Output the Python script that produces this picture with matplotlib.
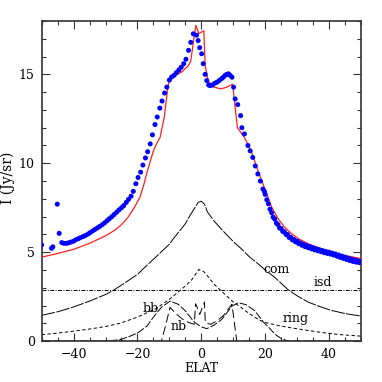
"""Zodiacal light profile vs ecliptic latitude: data, total model and components."""

import matplotlib

matplotlib.use("Agg")
import matplotlib.pyplot as plt  # noqa: E402
from matplotlib.ticker import MultipleLocator  # noqa: E402

plt.rcParams["font.family"] = ["DejaVu Serif"]

# observed profile (blue dots)
obs_elat = [-50, -46.9, -46.5, -45.1, -44.5,
            -43.7, -43, -42.2, -41.5, -40.8, -40, -39.3, -38.5, -37.8, -37, -36.3,
            -35.5, -34.8, -34, -33.3, -32.5, -31.8, -31, -30.3, -29.5, -28.8, -28,
            -27.3, -26.5, -25.8, -25, -24.3, -23.5, -22.8, -22, -21.3, -20.5, -19.8,
            -19, -18.3, -17.5, -16.8, -16, -15.3, -14.5, -13.8, -13, -12.3, -11.5,
            -10.8, -10, -9.3, -8.5, -7.8, -7, -6.3, -5.5, -4.8, -4, -3.3, -2.5,
            -1.5, -1, -0.5, 0.1, 0.6, 1.2, 1.7, 2.3, 2.8, 3.5, 4.2, 4.9, 5.6, 6.3,
            6.9, 7.5, 8.0, 8.5, 9.0, 9.6, 10.1, 10.6, 11.4, 12.3, 12.7, 13.5, 14.6,
            15.3, 16.1, 16.9, 17.7, 18.5, 19.3, 19.8,
            20, 20.5, 21, 21.5, 22, 22.5, 23, 23.5, 24, 24.5, 25, 25.5, 26, 26.5,
            27, 27.5, 28, 28.5, 29, 29.5, 30, 30.5, 31, 31.5, 32, 32.5, 33, 33.5,
            34, 34.5, 35, 35.5, 36, 36.5, 37, 37.5, 38, 38.5, 39, 39.5, 40, 40.5,
            41, 41.5, 42, 42.5, 43, 43.5, 44, 44.5, 45, 45.5, 46, 46.5, 47, 47.5,
            48, 48.5, 49, 49.5, 50]
obs_I = [5.41, 5.22, 5.3, 7.7, 6.06,
         5.54, 5.5, 5.5, 5.53, 5.57, 5.62, 5.7, 5.76, 5.82, 5.88, 5.94,
         6.02, 6.1, 6.2, 6.28, 6.37, 6.45, 6.55, 6.65, 6.77, 6.88, 7.0,
         7.12, 7.25, 7.38, 7.5, 7.62, 7.8, 7.97, 8.15, 8.42, 8.85, 9.2,
         9.5, 9.9, 10.3, 10.65, 11.09, 11.6, 12.18, 12.6, 13.1, 13.5, 13.95,
         14.28, 14.68, 14.85, 14.95, 15.1, 15.25, 15.4, 15.6, 15.85, 16.35, 16.8, 17.28,
         17.2, 16.9, 16.5, 16.16, 15.6, 15.0, 14.65, 14.4, 14.37, 14.4, 14.5, 14.56, 14.65, 14.75,
         14.84, 14.95, 15.0, 15.03, 14.95, 14.84, 14.28, 13.62, 13.3, 12.68, 12.0, 11.65, 11.0,
         10.7, 10.33, 9.85, 9.4, 9.0, 8.55, 8.4,
         8.25, 7.95, 7.72, 7.42, 7.22, 6.97, 6.87, 6.64, 6.55, 6.36, 6.33, 6.17, 6.15, 6.0,
         6.0, 5.83, 5.84, 5.69, 5.72, 5.58, 5.62, 5.48, 5.52, 5.39, 5.44, 5.31, 5.37, 5.25,
         5.31, 5.19, 5.25, 5.13, 5.19, 5.08, 5.14, 5.03, 5.09, 4.97, 5.04, 4.93, 5.0, 4.89,
         4.95, 4.84, 4.9, 4.77, 4.84, 4.71, 4.78, 4.65, 4.72, 4.59, 4.66, 4.53, 4.61, 4.48,
         4.56, 4.44, 4.52, 4.41, 4.48]

# total model (red line)
model_elat = [-50, -45, -40, -35, -30, -27, -25, -23, -21, -19.2, -18, -17, -16, -15,
              -14, -12.9, -11.6, -10.4, -9.8, -8, -6, -4, -3.3, -2.5, -1.7, -0.8, 0.8,
              1.2, 2.2, 3.8, 6, 8, 9.8, 11.3, 13.5, 15.6, 17.7, 20.3, 22, 24, 26,
              28.2, 30.5, 33.4, 38.6, 43.8, 50]
model_I = [4.72, 4.93, 5.16, 5.5, 5.92, 6.25, 6.55, 6.95, 7.5, 8.1, 8.8, 9.5, 10.1, 10.7,
           11.1, 11.46, 12.6, 14.4, 14.7, 14.95, 15.15, 15.5, 15.75, 16.8, 17.76, 17.3, 17.45,
           15.5, 14.6, 14.3, 14.18, 14.28, 14.45, 12.0, 11.45, 10.7, 9.6, 8.36, 7.55, 6.9, 6.42,
           6.05, 5.75, 5.48, 5.1, 4.86, 4.64]

# model components
com_elat = [-50, -45, -40, -35, -30, -27.5, -25, -20, -17, -15, -10, -8.7, -5, -3.5,
            -2, -1, 0, 1, 1.9, 4, 7.1, 10, 12.5, 15, 17.7, 20, 22.9, 25, 27.1, 30,
            33.4, 37, 40.7, 45, 50]
com_I = [1.45, 1.65, 1.92, 2.25, 2.62, 2.86, 3.15, 3.75, 4.27, 4.6, 5.45, 5.77, 6.6, 7.08,
         7.5, 7.8, 7.87, 7.7, 7.27, 6.75, 6.14, 5.6, 5.2, 4.75, 4.36, 4.0, 3.6, 3.25, 2.9, 2.55,
         2.2, 1.95, 1.73, 1.55, 1.41]

isd_elat = [-50, 50]
isd_I = [2.88, 2.88]

ring_elat = [-50, -45, -40, -35, -30, -25.5, -20, -14, -10, -7, -5, -3, -0.8, 0.8, 2,
             4, 7, 10, 12.4, 15, 18, 20, 24, 28, 33.4, 38, 43.8, 50]
ring_I = [0.36, 0.45, 0.56, 0.68, 0.82, 1.0, 1.35, 1.85, 2.35, 2.8, 3.1, 3.45, 4.03, 3.9, 3.65,
          3.2, 2.7, 2.2, 1.9, 1.55, 1.2, 1.05, 0.88, 0.75, 0.6, 0.48, 0.36, 0.28]

bb_elat = [-50, -32, -28, -25, -22, -20, -17, -15, -12.5, -9.8, -7.2, -5, -2.9, -1.9,
           0, 1.7, 4, 6.4, 9.6, 11.6, 14, 16.8, 19.3, 21.5, 23.1, 25, 27.3, 50]
bb_I = [0, 0, 0.03, 0.1, 0.3, 0.45, 0.85, 1.35, 1.9, 2.25, 2.07, 1.7, 1.22, 1.03,
        0.8, 0.7, 0.9, 1.22, 1.97, 2.16, 2.05, 1.7, 1.1, 0.7, 0.38, 0.15, 0, 0]

nb_elat = [-50, -12.5, -11, -9.8, -8, -6, -4, -2.2, -1.8, -1.4, -0.5, 1.0, 1.2, 1.6, 3,
           5, 7, 9.6, 11.1, 50]
nb_I = [0, 0, 1.0, 1.9, 1.55, 1.25, 1.05, 0.95, 2.1, 1.95, 1.5, 2.2, 1.2, 1.0, 0.95,
        1.15, 1.45, 2.07, 0, 0]

comp_labels = ["com", "isd", "ring", "bb", "nb"]
label_elat = [23.5, 38.0, 29.5, -15.7, -7.0]
label_I = [4.05, 3.27, 1.3, 1.83, 0.82]


fig = plt.figure(figsize=(3.82, 3.82), dpi=100)
ax = fig.add_axes([0.109, 0.107, 0.836, 0.838])

lw = 0.7
ax.plot(com_elat, com_I, color="k", lw=lw, dashes=(14, 1.5))
ax.plot(isd_elat, isd_I, color="k", lw=lw, dashes=(4, 1.5, 1, 1.5))
ax.plot(ring_elat, ring_I, color="k", lw=lw, dashes=(3.5, 2.5))
ax.plot(bb_elat, bb_I, color="k", lw=lw, dashes=(8, 2))
ax.plot(nb_elat, nb_I, color="k", lw=lw, dashes=(9, 4))

ax.plot(model_elat, model_I, color="#ff2020", lw=0.9, zorder=3)
ax.scatter(obs_elat, obs_I, s=13, color="#0000ff", edgecolors="none", zorder=4)

for txt, xv, yv in zip(comp_labels, label_elat, label_I):
    ax.text(xv, yv, txt, fontsize=9, ha="center", va="center")

ax.set_xlim(-50, 50)
ax.set_ylim(0, 18)
ax.xaxis.set_major_locator(MultipleLocator(20))
ax.xaxis.set_minor_locator(MultipleLocator(5))
ax.yaxis.set_major_locator(MultipleLocator(5))
ax.yaxis.set_minor_locator(MultipleLocator(1))
ax.tick_params(which="both", direction="in", top=True, right=True,
               labelsize=9, color="#333333", width=0.8)
ax.tick_params(which="major", length=6, pad=5)
ax.tick_params(which="minor", length=3)
for sp in ax.spines.values():
    sp.set_color("#333333")
    sp.set_linewidth(1.2)

fig.text(201 / 382, 1 - 368 / 382, "ELAT", fontsize=9, ha="center", va="center")
fig.text(8 / 382, 1 - 178 / 382, "I (Jy/sr)", fontsize=10, ha="center",
         va="center", rotation=90)

fig.savefig("out.png", dpi=100)
plt.close(fig)
